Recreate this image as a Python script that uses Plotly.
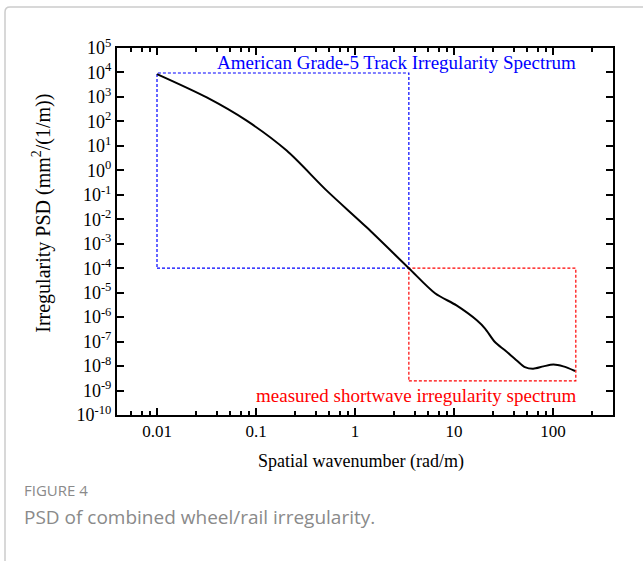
import plotly.graph_objects as go
import numpy as np

# ---- data ----
wavenumber = [0.01, 0.0318, 0.0805, 0.204, 0.518, 1.31, 3.5, 6.43, 10.6, 17.0, 20.6,
              25.9, 32.7, 43, 52, 63, 80, 101, 127, 167]
psd = [8.6e3, 955, 107, 6.4, 0.148, 4.7e-3, 1.0e-4, 9.5e-6, 3.0e-6, 7.4e-7, 3.4e-7,
       9.6e-8, 4.4e-8, 1.7e-8, 9.1e-9, 7.8e-9, 9.7e-9, 1.15e-8, 9.7e-9, 6.3e-9]

# box bounds (x: rad/m, y: PSD)
grade5_box_x = [0.01, 3.5]
grade5_box_y = [1.0e-4, 9.5e3]
short_box_x = [3.5, 170]
short_box_y = [2.5e-9, 1.0e-4]

x_major = [0.01, 0.1, 1, 10, 100]
x_major_text = ["0.01", "0.1", "1", "10", "100"]
x_minor_mant = [2.5, 4, 5.5, 7, 8.5]
y_exponents = list(range(-10, 6))

grade5_label = "American Grade-5 Track Irregularity Spectrum"
short_label = "measured shortwave irregularity spectrum"
x_title = "Spatial wavenumber (rad/m)"
y_title = "Irregularity PSD (mm<sup>2</sup>/(1/m))"
fig_label = "FIGURE 4"
caption = "PSD of combined wheel/rail irregularity."

SERIF = "Liberation Serif, Times New Roman, serif"

x_minor = [m * 10.0 ** d for d in range(-3, 3) for m in x_minor_mant]


def box(xs, ys):
    return [xs[0], xs[1], xs[1], xs[0], xs[0]], [ys[0], ys[0], ys[1], ys[1], ys[0]]


fig = go.Figure()
bx, by = box(grade5_box_x, grade5_box_y)
fig.add_trace(go.Scatter(x=bx, y=by, mode="lines",
                         line=dict(color="#0000ff", width=1.2, dash="3px,2px"),
                         hoverinfo="skip", showlegend=False))
rx, ry = box(short_box_x, short_box_y)
fig.add_trace(go.Scatter(x=rx, y=ry, mode="lines",
                         line=dict(color="#ff0000", width=1.2, dash="3px,2px"),
                         hoverinfo="skip", showlegend=False))
fig.add_trace(go.Scatter(x=wavenumber, y=psd, mode="lines",
                         line=dict(color="black", width=2, shape="spline", smoothing=0.8),
                         showlegend=False))

axis_common = dict(
    type="log", showline=True, linecolor="black", linewidth=2, mirror="ticks",
    ticks="inside", ticklen=7, tickwidth=2, tickcolor="black",
    showgrid=False, zeroline=False,
)

fig.update_xaxes(**axis_common, range=[-2.404, 2.606], tickmode="array",
                 tickvals=x_major, ticktext=x_major_text,
                 tickfont=dict(family=SERIF, size=17, color="black"),
                 minor=dict(tickmode="array", tickvals=x_minor, ticks="inside",
                            ticklen=4, tickwidth=2, tickcolor="black", showgrid=False))
fig.update_yaxes(**axis_common, range=[-10, 5], tickmode="array",
                 tickvals=[10.0 ** e for e in y_exponents],
                 ticktext=[f"10<sup>{e}</sup>" for e in y_exponents],
                 tickfont=dict(family=SERIF, size=18, color="black"))

annotations = [
    dict(x=np.log10(167) + 0.03, y=4.42, xref="x", yref="y", text=grade5_label, showarrow=False,
         xanchor="right", yanchor="middle",
         font=dict(family=SERIF, size=19, color="#0000ff")),
    dict(x=np.log10(167) + 0.03, y=-9.2, xref="x", yref="y", text=short_label, showarrow=False,
         xanchor="right", yanchor="middle",
         font=dict(family=SERIF, size=19, color="#ff0000")),
    dict(x=0.4915, y=-0.128, xref="paper", yref="paper", text=x_title, showarrow=False,
         xanchor="center", yanchor="middle",
         font=dict(family=SERIF, size=18, color="black")),
    dict(x=-0.152, y=0.55, xref="paper", yref="paper", text=y_title, showarrow=False,
         xanchor="center", yanchor="middle", textangle=-90,
         font=dict(family=SERIF, size=20, color="black")),
    dict(x=-0.1915, y=-0.2044, xref="paper", yref="paper", text=fig_label, showarrow=False,
         xanchor="left", yanchor="middle",
         font=dict(family="Open Sans, sans-serif", size=15, color="#8a8a8a")),
    dict(x=-0.1915, y=-0.278, xref="paper", yref="paper", text=caption, showarrow=False,
         xanchor="left", yanchor="middle",
         font=dict(family="Open Sans, sans-serif", size=19, color="#8a8a8a")),
]

shapes = [
    dict(type="path", xref="paper", yref="paper",
         path="M -0.2258,-0.45 L -0.2258,1.098 Q -0.2258,1.1117 -0.2157,1.1117 L 1.1,1.1117",
         line=dict(color="#cccccc", width=1.5)),
]

fig.update_layout(
    width=643, height=561,
    margin=dict(l=117, r=30, t=48, b=146),
    paper_bgcolor="white", plot_bgcolor="white",
    annotations=annotations, shapes=shapes,
    showlegend=False,
)

fig.write_html("out.html")
